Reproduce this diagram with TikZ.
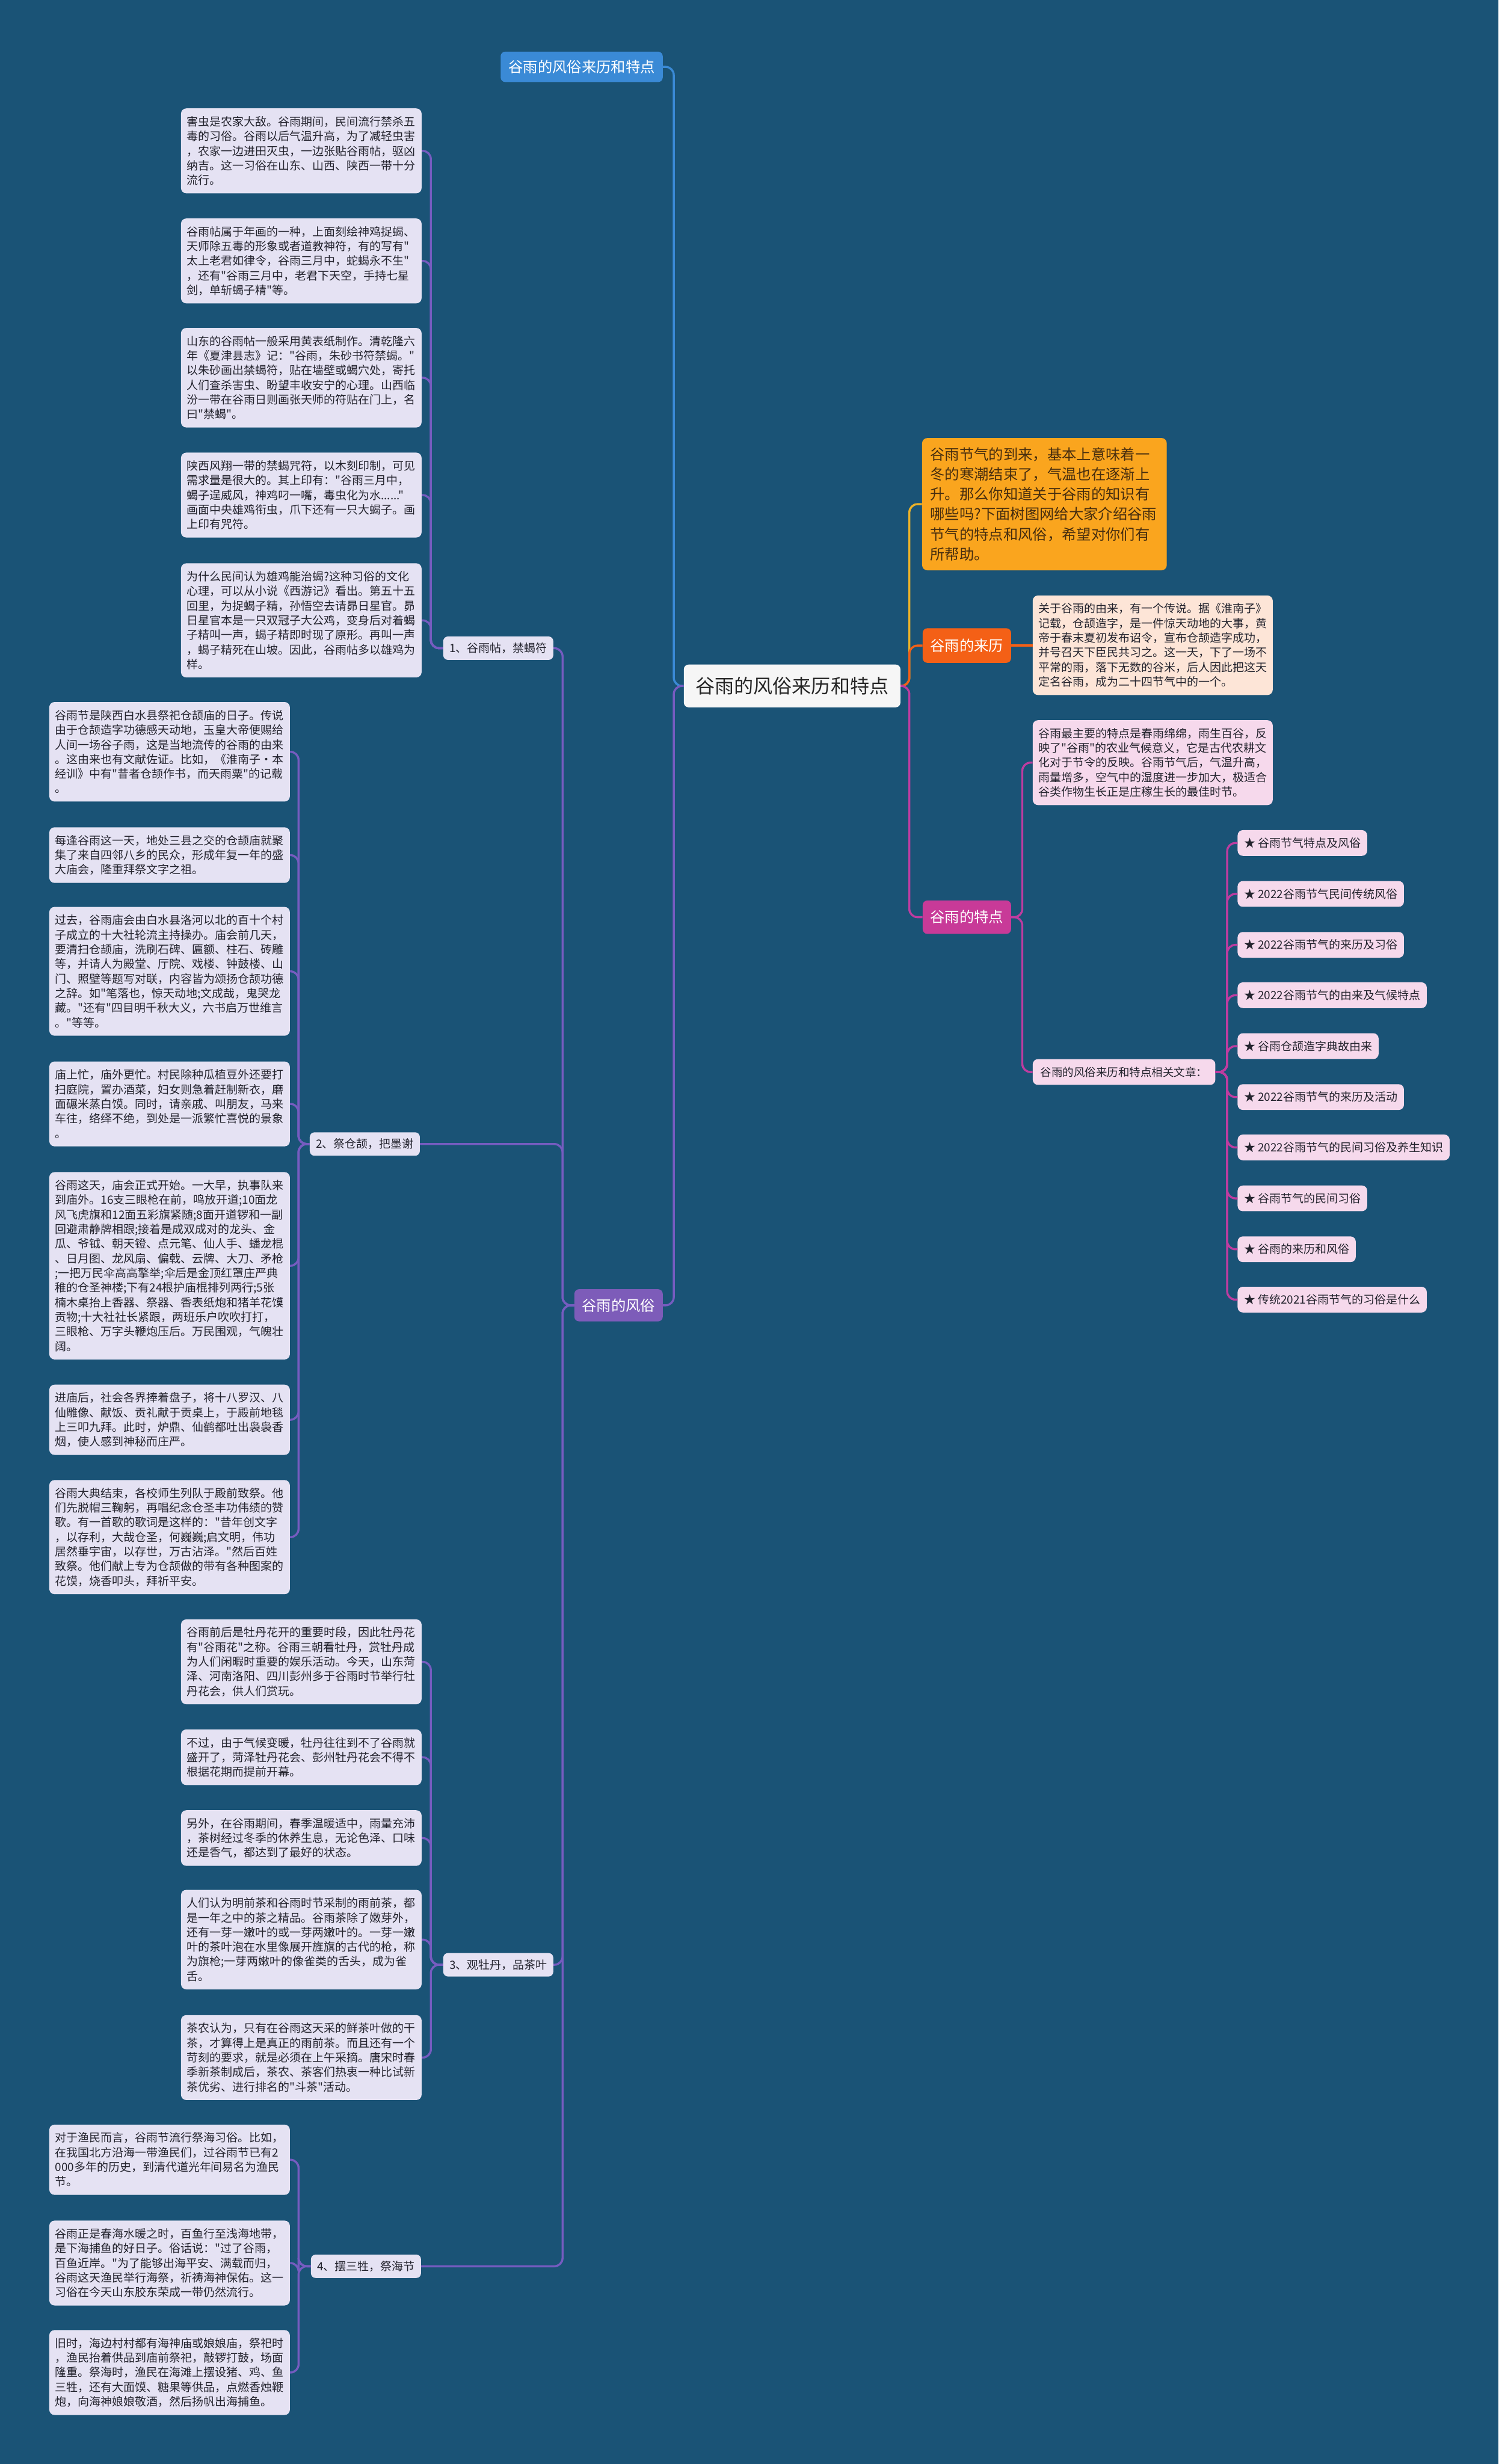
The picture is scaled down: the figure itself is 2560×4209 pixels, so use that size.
\documentclass[tikz,border=0pt]{standalone}
\usepackage{fontspec}
\setmainfont{Noto Sans CJK SC}[Ligatures=TeXOff]
\definecolor{bg}{RGB}{26,83,118}
\definecolor{leafc}{RGB}{229,226,243}
\definecolor{leaftxt}{RGB}{35,35,45}
\definecolor{bluen}{RGB}{58,138,214}
\definecolor{purn}{RGB}{125,92,185}
\definecolor{purl}{RGB}{118,92,192}
\definecolor{orgbox}{RGB}{250,165,30}
\definecolor{orgtxt}{RGB}{70,45,15}
\definecolor{redn}{RGB}{244,96,22}
\definecolor{peach}{RGB}{253,229,215}
\definecolor{magn}{RGB}{200,58,152}
\definecolor{magl}{RGB}{190,60,160}
\definecolor{pinkb}{RGB}{246,217,236}
\definecolor{yell}{RGB}{236,178,40}
\definecolor{rootc}{RGB}{246,246,246}
\begin{document}
\begin{tikzpicture}[x=1pt,y=-1pt,
  box/.style={anchor=north west, rounded corners=9pt, inner xsep=10pt, inner ysep=0pt, align=left, font=\fontsize{19.5}{25}\selectfont, text=leaftxt},
  leaf/.style={box, fill=leafc, text width=391pt},
  lab/.style={anchor=north west, rounded corners=8pt, fill=leafc, text=leaftxt, font=\fontsize{19.5}{24}\selectfont, minimum width=188pt, minimum height=40pt, inner sep=0pt},
  mainn/.style={anchor=north west, rounded corners=8pt, text=white, font=\fontsize{25}{30}\selectfont, inner sep=0pt},
  item/.style={anchor=west, rounded corners=9pt, fill=pinkb, text=leaftxt, font=\fontsize{19.5}{24}\selectfont, inner xsep=11pt, inner ysep=0pt, minimum height=44pt},
  pl/.style={draw=purl, line width=3.5pt, rounded corners=14pt},
  bl/.style={draw=bluen, line width=3.5pt, rounded corners=14pt},
  yl/.style={draw=yell, line width=3.5pt, rounded corners=14pt},
  ol/.style={draw=redn, line width=3.5pt, rounded corners=14pt},
  ml/.style={draw=magl, line width=3.5pt, rounded corners=14pt}
]
\fill[bg] (0,0) rectangle (2560,4209);
\useasboundingbox (0,0) rectangle (2560,4209);

% root and first level
\node[anchor=north west, rounded corners=8pt, fill=rootc, text=black!85, font=\fontsize{33}{38}\selectfont, inner sep=0pt, minimum width=370pt, minimum height=73pt] (root) at (1168,1135) {谷雨的风俗来历和特点};
\node[mainn, fill=bluen, minimum width=277pt, minimum height=52pt] (blue) at (855,88) {谷雨的风俗来历和特点};
\node[mainn, fill=purn, minimum width=151pt, minimum height=55pt] (fengsu) at (981,2202) {谷雨的风俗};

\node[anchor=north west, rounded corners=9pt, fill=orgbox, text=orgtxt, font=\fontsize{25}{34}\selectfont, inner xsep=14pt, inner ysep=0pt, text width=390pt, align=left, minimum height=226pt] (intro) at (1575,748) {谷雨节气的到来，基本上意味着一\\冬的寒潮结束了，气温也在逐渐上\\升。那么你知道关于谷雨的知识有\\哪些吗?下面树图网给大家介绍谷雨\\节气的特点和风俗，希望对你们有\\所帮助。};
\node[mainn, fill=redn, minimum width=151pt, minimum height=59pt] (laili) at (1576,1073) {谷雨的来历};
\node[mainn, fill=magn, minimum width=151pt, minimum height=57pt] (tedian) at (1576,1538) {谷雨的特点};

% right details
\node[box, fill=peach, text width=390pt, minimum height=170pt] (lailitxt) at (1764,1017) {关于谷雨的由来，有一个传说。据《淮南子》\\记载，仓颉造字，是一件惊天动地的大事，黄\\帝于春末夏初发布诏令，宣布仓颉造字成功，\\并号召天下臣民共习之。这一天，下了一场不\\平常的雨，落下无数的谷米，后人因此把这天\\定名谷雨，成为二十四节气中的一个。};
\node[box, fill=pinkb, text width=390pt, minimum height=145pt] (tdtxt) at (1764,1230) {谷雨最主要的特点是春雨绵绵，雨生百谷，反\\映了"谷雨"的农业气候意义，它是古代农耕文\\化对于节令的反映。谷雨节气后，气温升高，\\雨量增多，空气中的湿度进一步加大，极适合\\谷类作物生长正是庄稼生长的最佳时节。};
\node[anchor=north west, rounded corners=9pt, fill=pinkb, text=leaftxt, font=\fontsize{19}{24}\selectfont, inner sep=0pt, minimum width=312pt, minimum height=44pt] (rel) at (1764,1809) {谷雨的风俗来历和特点相关文章：};

\node[item] (i1) at (2114,1440) {★ 谷雨节气特点及风俗};
\node[item] (i2) at (2114,1527) {★ 2022谷雨节气民间传统风俗};
\node[item] (i3) at (2114,1614) {★ 2022谷雨节气的来历及习俗};
\node[item] (i4) at (2114,1700) {★ 2022谷雨节气的由来及气候特点};
\node[item] (i5) at (2114,1787) {★ 谷雨仓颉造字典故由来};
\node[item] (i6) at (2114,1874) {★ 2022谷雨节气的来历及活动};
\node[item] (i7) at (2114,1960) {★ 2022谷雨节气的民间习俗及养生知识};
\node[item] (i8) at (2114,2047) {★ 谷雨节气的民间习俗};
\node[item] (i9) at (2114,2134) {★ 谷雨的来历和风俗};
\node[item] (i10) at (2114,2220) {★ 传统2021谷雨节气的习俗是什么};

% second level labels
\node[lab] (l1) at (757,1087) {1、谷雨帖，禁蝎符};
\node[lab] (l2) at (529,1934) {2、祭仓颉，把墨谢};
\node[lab] (l3) at (757,3336) {3、观牡丹，品茶叶};
\node[lab] (l4) at (531,3851) {4、摆三牲，祭海节};

% label 1 children
\node[leaf, minimum height=145pt] (b1) at (309,185) {害虫是农家大敌。谷雨期间，民间流行禁杀五\\毒的习俗。谷雨以后气温升高，为了减轻虫害\\，农家一边进田灭虫，一边张贴谷雨帖，驱凶\\纳吉。这一习俗在山东、山西、陕西一带十分\\流行。};
\node[leaf, minimum height=145pt] (b2) at (309,373) {谷雨帖属于年画的一种，上面刻绘神鸡捉蝎、\\天师除五毒的形象或者道教神符，有的写有"\\太上老君如律令，谷雨三月中，蛇蝎永不生"\\，还有"谷雨三月中，老君下天空，手持七星\\剑，单斩蝎子精"等。};
\node[leaf, minimum height=170pt] (b3) at (309,560) {山东的谷雨帖一般采用黄表纸制作。清乾隆六\\年《夏津县志》记："谷雨，朱砂书符禁蝎。"\\以朱砂画出禁蝎符，贴在墙壁或蝎穴处，寄托\\人们查杀害虫、盼望丰收安宁的心理。山西临\\汾一带在谷雨日则画张天师的符贴在门上，名\\曰"禁蝎"。};
\node[leaf, minimum height=145pt] (b4) at (309,773) {陕西风翔一带的禁蝎咒符，以木刻印制，可见\\需求量是很大的。其上印有："谷雨三月中，\\蝎子逞威风，神鸡叼一嘴，毒虫化为水......"\\画面中央雄鸡衔虫，爪下还有一只大蝎子。画\\上印有咒符。};
\node[leaf, minimum height=195pt] (b5) at (309,962) {为什么民间认为雄鸡能治蝎?这种习俗的文化\\心理，可以从小说《西游记》看出。第五十五\\回里，为捉蝎子精，孙悟空去请昴日星官。昴\\日星官本是一只双冠子大公鸡，变身后对着蝎\\子精叫一声，蝎子精即时现了原形。再叫一声\\，蝎子精死在山坡。因此，谷雨帖多以雄鸡为\\样。};

% label 2 children
\node[leaf, minimum height=170pt] (c1) at (84,1199) {谷雨节是陕西白水县祭祀仓颉庙的日子。传说\\由于仓颉造字功德感天动地，玉皇大帝便赐给\\人间一场谷子雨，这是当地流传的谷雨的由来\\。这由来也有文献佐证。比如，《淮南子·本\\经训》中有"昔者仓颉作书，而天雨粟"的记载\\。};
\node[leaf, minimum height=95pt] (c2) at (84,1413) {每逢谷雨这一天，地处三县之交的仓颉庙就聚\\集了来自四邻八乡的民众，形成年复一年的盛\\大庙会，隆重拜祭文字之祖。};
\node[leaf, minimum height=220pt] (c3) at (84,1549) {过去，谷雨庙会由白水县洛河以北的百十个村\\子成立的十大社轮流主持操办。庙会前几天，\\要清扫仓颉庙，洗刷石碑、匾额、柱石、砖雕\\等，并请人为殿堂、厅院、戏楼、钟鼓楼、山\\门、照壁等题写对联，内容皆为颂扬仓颉功德\\之辞。如"笔落也，惊天动地;文成哉，鬼哭龙\\藏。"还有"四目明千秋大义，六书启万世维言\\。"等等。};
\node[leaf, minimum height=145pt] (c4) at (84,1813) {庙上忙，庙外更忙。村民除种瓜植豆外还要打\\扫庭院，置办酒菜，妇女则急着赶制新衣，磨\\面碾米蒸白馍。同时，请亲戚、叫朋友，马来\\车往，络绎不绝，到处是一派繁忙喜悦的景象\\。};
\node[leaf, minimum height=320pt] (c5) at (84,2002) {谷雨这天，庙会正式开始。一大早，执事队来\\到庙外。16支三眼枪在前，鸣放开道;10面龙\\风飞虎旗和12面五彩旗紧随;8面开道锣和一副\\回避肃静牌相跟;接着是成双成对的龙头、金\\瓜、爷钺、朝天镫、点元笔、仙人手、蟠龙棍\\、日月图、龙风扇、偏戟、云牌、大刀、矛枪\\;一把万民伞高高擎举;伞后是金顶红罩庄严典\\稚的仓圣神楼;下有24根护庙棍排列两行;5张\\楠木桌抬上香器、祭器、香表纸炮和猪羊花馍\\贡物;十大社社长紧跟，两班乐户吹吹打打，\\三眼枪、万字头鞭炮压后。万民围观，气魄壮\\阔。};
\node[leaf, minimum height=120pt] (c6) at (84,2365) {进庙后，社会各界捧着盘子，将十八罗汉、八\\仙雕像、献饭、贡礼献于贡桌上，于殿前地毯\\上三叩九拜。此时，炉鼎、仙鹤都吐出袅袅香\\烟，使人感到神秘而庄严。};
\node[leaf, minimum height=195pt] (c7) at (84,2528) {谷雨大典结束，各校师生列队于殿前致祭。他\\们先脱帽三鞠躬，再唱纪念仓圣丰功伟绩的赞\\歌。有一首歌的歌词是这样的："昔年创文字\\，以存利，大哉仓圣，何巍巍;启文明，伟功\\居然垂宇宙，以存世，万古沾泽。"然后百姓\\致祭。他们献上专为仓颉做的带有各种图案的\\花馍，烧香叩头，拜祈平安。};

% label 3 children
\node[leaf, minimum height=145pt] (d1) at (309,2766) {谷雨前后是牡丹花开的重要时段，因此牡丹花\\有"谷雨花"之称。谷雨三朝看牡丹，赏牡丹成\\为人们闲暇时重要的娱乐活动。今天，山东菏\\泽、河南洛阳、四川彭州多于谷雨时节举行牡\\丹花会，供人们赏玩。};
\node[leaf, minimum height=95pt] (d2) at (309,2954) {不过，由于气候变暖，牡丹往往到不了谷雨就\\盛开了，菏泽牡丹花会、彭州牡丹花会不得不\\根据花期而提前开幕。};
\node[leaf, minimum height=95pt] (d3) at (309,3092) {另外，在谷雨期间，春季温暖适中，雨量充沛\\，茶树经过冬季的休养生息，无论色泽、口味\\还是香气，都达到了最好的状态。};
\node[leaf, minimum height=170pt] (d4) at (309,3228) {人们认为明前茶和谷雨时节采制的雨前茶，都\\是一年之中的茶之精品。谷雨茶除了嫩芽外，\\还有一芽一嫩叶的或一芽两嫩叶的。一芽一嫩\\叶的茶叶泡在水里像展开旌旗的古代的枪，称\\为旗枪;一芽两嫩叶的像雀类的舌头，成为雀\\舌。};
\node[leaf, minimum height=145pt] (d5) at (309,3442) {茶农认为，只有在谷雨这天采的鲜茶叶做的干\\茶，才算得上是真正的雨前茶。而且还有一个\\苛刻的要求，就是必须在上午采摘。唐宋时春\\季新茶制成后，茶农、茶客们热衷一种比试新\\茶优劣、进行排名的"斗茶"活动。};

% label 4 children
\node[leaf, minimum height=120pt] (e1) at (84,3629) {对于渔民而言，谷雨节流行祭海习俗。比如，\\在我国北方沿海一带渔民们，过谷雨节已有2\\000多年的历史，到清代道光年间易名为渔民\\节。};
\node[leaf, minimum height=145pt] (e2) at (84,3793) {谷雨正是春海水暖之时，百鱼行至浅海地带，\\是下海捕鱼的好日子。俗话说："过了谷雨，\\百鱼近岸。"为了能够出海平安、满载而归，\\谷雨这天渔民举行海祭，祈祷海神保佑。这一\\习俗在今天山东胶东荣成一带仍然流行。};
\node[leaf, minimum height=145pt] (e3) at (84,3980) {旧时，海边村村都有海神庙或娘娘庙，祭祀时\\，渔民抬着供品到庙前祭祀，敲锣打鼓，场面\\隆重。祭海时，渔民在海滩上摆设猪、鸡、鱼\\三牲，还有大面馍、糖果等供品，点燃香烛鞭\\炮，向海神娘娘敬酒，然后扬帆出海捕鱼。};

% connectors, left side
\draw[bl] (root.west) -- ++(-17,0) |- (blue.east);
\draw[pl] (root.west) -- ++(-17,0) |- (fengsu.east);
\foreach \t in {l1,l2,l3,l4} \draw[pl] (fengsu.west) -- ++(-20,0) |- (\t.east);
\foreach \t in {b1,b2,b3,b4,b5} \draw[pl] (l1.west) -- ++(-21,0) |- (\t.east);
\foreach \t in {c1,c2,c3,c4,c5,c6,c7} \draw[pl] (l2.west) -- ++(-19,0) |- (\t.east);
\foreach \t in {d1,d2,d3,d4,d5} \draw[pl] (l3.west) -- ++(-21,0) |- (\t.east);
\foreach \t in {e1,e2,e3} \draw[pl] (l4.west) -- ++(-21,0) |- (\t.east);
% right side
\draw[yl] (root.east) -- ++(15,0) |- (intro.west);
\draw[ol] (root.east) -- ++(15,0) |- (laili.west);
\draw[ml] (root.east) -- ++(15,0) |- (tedian.west);
\draw[ol] (laili.east) -- (lailitxt.west |- laili.east);
\draw[ml] (tedian.east) -- ++(19,0) |- (tdtxt.west);
\draw[ml] (tedian.east) -- ++(19,0) |- (rel.west);
\foreach \t in {i1,i2,i3,i4,i5,i6,i7,i8,i9,i10} \draw[ml] (rel.east) -- ++(20,0) |- (\t.west);
\end{tikzpicture}
\end{document}
